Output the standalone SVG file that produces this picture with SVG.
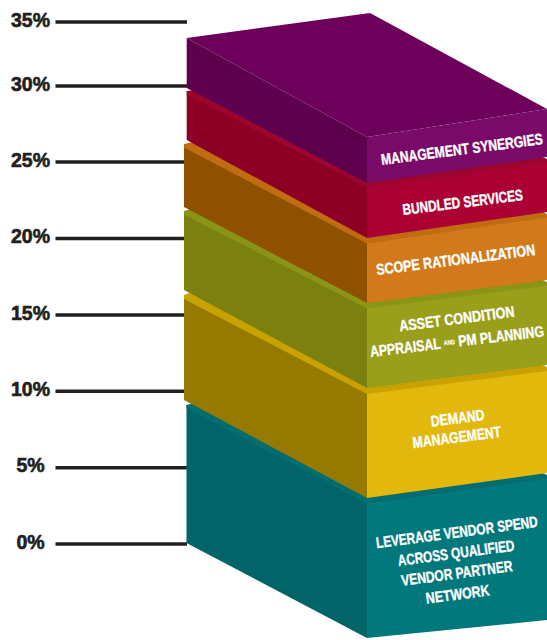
<svg xmlns="http://www.w3.org/2000/svg" width="547" height="640" viewBox="0 0 547 640">
  <style>
    .tick { stroke: #231f20; stroke-width: 3.4; }
    .axis-label { font-family: "Liberation Sans", Arial, sans-serif; font-weight: 700; font-size: 19.5px; fill: #231f20; stroke: #231f20; stroke-width: 0.6; text-anchor: middle; }
    .lbl { font-family: "Liberation Sans", Arial, sans-serif; font-weight: 700; font-size: 15.5px; fill: #ffffff; stroke: #ffffff; stroke-width: 0.35; text-anchor: middle; }
    .tiny { font-size: 6.5px; stroke-width: 0.2; }
  </style>

  <!-- y axis: labels and tick lines -->
  <g id="axis">
    <line class="tick" x1="55.5" y1="22" x2="187" y2="22"/>
    <line class="tick" x1="55.5" y1="86" x2="187" y2="86"/>
    <line class="tick" x1="55.5" y1="162" x2="187" y2="162"/>
    <line class="tick" x1="55.5" y1="238.5" x2="187" y2="238.5"/>
    <line class="tick" x1="55.5" y1="315" x2="187" y2="315"/>
    <line class="tick" x1="55.5" y1="391.3" x2="187" y2="391.3"/>
    <line class="tick" x1="55.5" y1="467.7" x2="187" y2="467.7"/>
    <line class="tick" x1="55.5" y1="544" x2="187" y2="544"/>
    <text class="axis-label" x="30.5" y="27.3">35%</text>
    <text class="axis-label" x="30.5" y="91">30%</text>
    <text class="axis-label" x="30.5" y="167.3">25%</text>
    <text class="axis-label" x="30.5" y="243.3">20%</text>
    <text class="axis-label" x="30.5" y="320">15%</text>
    <text class="axis-label" x="30.5" y="396.3">10%</text>
    <text class="axis-label" x="30.5" y="472">5%</text>
    <text class="axis-label" x="30.5" y="548.5">0%</text>
  </g>

  <!-- stacked blocks, drawn bottom to top; each lower block shows a thin rim of its top face.
       Labels are set in a horizontally condensed bold face, tilted to follow the front face. -->
  <g id="block-vendor">
    <polygon fill="#006468" points="186.5,405 367,500 367,638 186.5,543"/>
    <polygon fill="#00787c" points="367,500 547,475 547,620 367,638"/>
    <polygon fill="#006d71" points="186.5,405 194,403 367,496 540,472 547,475 547,478.5 367,503.5 186.5,408.5"/>
    <text class="lbl" transform="translate(457.5 537.5) rotate(-7.6) scale(0.8 1)" textLength="203.75" lengthAdjust="spacingAndGlyphs">LEVERAGE VENDOR SPEND</text>
    <text class="lbl" transform="translate(456.7 558.3) rotate(-7.6) scale(0.8 1)" textLength="146.9" lengthAdjust="spacingAndGlyphs">ACROSS QUALIFIED</text>
    <text class="lbl" transform="translate(457.5 578.5) rotate(-7.6) scale(0.8 1)" textLength="140" lengthAdjust="spacingAndGlyphs">VENDOR PARTNER</text>
    <text class="lbl" transform="translate(458.3 599.5) rotate(-7.6) scale(0.8 1)" textLength="80" lengthAdjust="spacingAndGlyphs">NETWORK</text>
  </g>

  <g id="block-demand">
    <polygon fill="#957900" points="184,295 367,390 367,498 184,400"/>
    <polygon fill="#e1b80b" points="367,390 547,367 547,473 367,498"/>
    <polygon fill="#c9a100" points="184,295 192,292 367,386 540,364 547,367 547,371 367,394 184,299"/>
    <text class="lbl" transform="translate(458.3 423.3) rotate(-7.3) scale(0.8 1)" textLength="67.5" lengthAdjust="spacingAndGlyphs">DEMAND</text>
    <text class="lbl" transform="translate(457.5 442.5) rotate(-7.3) scale(0.8 1)" textLength="111.25" lengthAdjust="spacingAndGlyphs">MANAGEMENT</text>
  </g>

  <g id="block-asset">
    <polygon fill="#7b800f" points="184,211 367,305 367,388 184,290"/>
    <polygon fill="#999e1b" points="367,305 547,282 547,365 367,388"/>
    <polygon fill="#8a9516" points="184,211 191,209 367,301 540,279 547,282 547,285.5 367,308.5 184,214.5"/>
    <text class="lbl" transform="translate(457.5 324) rotate(-7.3) scale(0.8 1)" textLength="145" lengthAdjust="spacingAndGlyphs">ASSET CONDITION</text>
    <text class="lbl" transform="translate(457.5 346.7) rotate(-6.8) scale(0.8 1)" textLength="218.75" lengthAdjust="spacingAndGlyphs">APPRAISAL <tspan class="tiny" dy="-3">AND</tspan><tspan dy="3"> PM PLANNING</tspan></text>
  </g>

  <g id="block-scope">
    <polygon fill="#8f5000" points="184,144 367,240 367,303 184,207"/>
    <polygon fill="#d27a1b" points="367,240 547,214 547,280 367,303"/>
    <polygon fill="#c06c10" points="184,144 193,142 367,236 540,210 547,214 547,217.5 367,243.5 184,147.5"/>
    <text class="lbl" transform="translate(456.3 265) rotate(-7.2) scale(0.8 1)" textLength="200" lengthAdjust="spacingAndGlyphs">SCOPE RATIONALIZATION</text>
  </g>

  <g id="block-bundled">
    <polygon fill="#8b0024" points="186.7,91 367,184 367,238 186.7,140"/>
    <polygon fill="#ab0033" points="367,184 547,159 547,212 367,238"/>
    <polygon fill="#9c062e" points="186.7,91 194,90 367,181 540,156 547,159 547,162.5 367,187.5 186.7,94.5"/>
    <text class="lbl" transform="translate(463.3 207.5) rotate(-7.1) scale(0.8 1)" textLength="151.25" lengthAdjust="spacingAndGlyphs">BUNDLED SERVICES</text>
  </g>

  <g id="block-management">
    <polygon fill="#6d005b" points="186.7,38 370,13 547,109 367,137"/>
    <polygon fill="#5f004e" points="186.7,38 367,137 367,183 186.7,88"/>
    <polygon fill="#7a0a67" points="367,137 547,109 547,157 367,183"/>
    <text class="lbl" transform="translate(462.5 154.5) rotate(-7.4) scale(0.8 1)" textLength="203.75" lengthAdjust="spacingAndGlyphs">MANAGEMENT SYNERGIES</text>
  </g>
</svg>
